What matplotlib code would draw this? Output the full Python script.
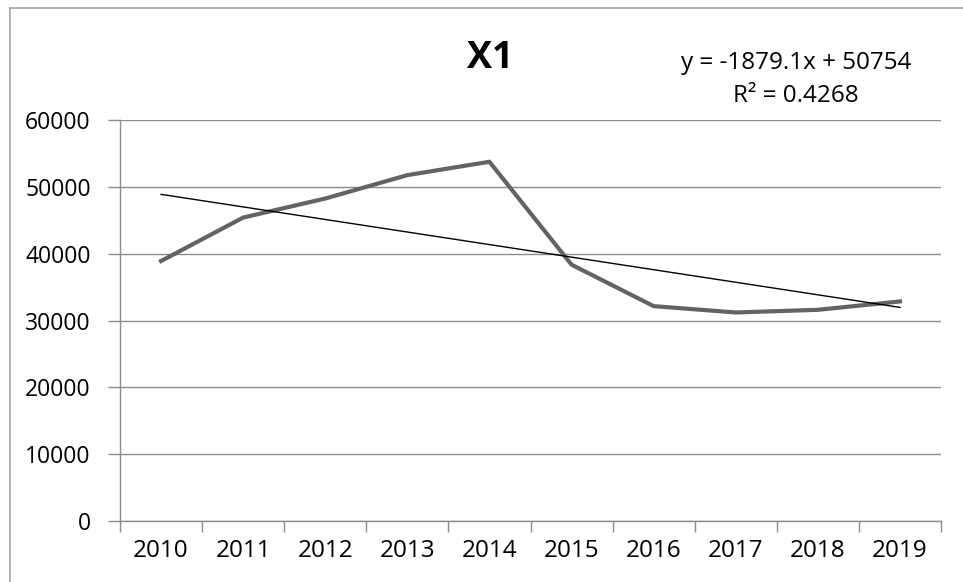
import matplotlib.pyplot as plt
from matplotlib.lines import Line2D
import numpy as np

plt.rcParams['font.family'] = ['Open Sans', 'DejaVu Sans']

# Données
annees = ['2010', '2011', '2012', '2013', '2014', '2015', '2016', '2017', '2018', '2019']
valeurs = [38900, 45400, 48250, 51750, 53750, 38350, 32150, 31200, 31600, 32850]
pente = -1879.1
ordonnee = 50754
r2 = 0.4268

fig = plt.figure(figsize=(9.63, 5.82), dpi=100)
ax = fig.add_axes([120 / 963, 1 - 521 / 582, 821 / 963, 401 / 582])

x = np.arange(len(annees))
ax.plot(x, valeurs, color='#636363', linewidth=3.0, solid_joinstyle='miter', zorder=3)

# Courbe de tendance linéaire (x commence à 1 comme dans Excel)
tendance = pente * (x + 1) + ordonnee
ax.plot(x, tendance, color='black', linewidth=1.0, zorder=4)

ax.set_xlim(-0.5, len(annees) - 0.5)
ax.set_ylim(0, 60000)
ax.set_yticks(np.arange(0, 60001, 10000))
ax.set_xticks(np.arange(-0.5, len(annees), 1.0))
ax.set_xticklabels([])
ax.set_xticks(x, minor=True)
ax.set_xticklabels(annees, minor=True, fontsize=17.5)
ax.tick_params(axis='x', which='minor', length=0, pad=13)
ax.tick_params(axis='x', which='major', length=8, color='#8c8c8c', width=1)
ax.tick_params(axis='y', length=9, color='#8c8c8c', width=1, labelsize=16.5, pad=12)

ax.grid(axis='y', color='#8c8c8c', linewidth=1)
ax.set_axisbelow(True)
for cote in ['top', 'right']:
    ax.spines[cote].set_visible(False)
for cote in ['left', 'bottom']:
    ax.spines[cote].set_color('#8c8c8c')
    ax.spines[cote].set_linewidth(1)

# Titre et équation
fig.text(490 / 963, 1 - 58 / 582, 'X1', fontsize=27, fontweight='bold',
         ha='center', va='center')
fig.text(796 / 963, 1 - 63 / 582, 'y = -1879.1x + 50754', fontsize=17.5,
         ha='center', va='center')
fig.text(796 / 963, 1 - 96 / 582, 'R² = 0.4268', fontsize=17.5,
         ha='center', va='center')

# Bordure du graphique (gauche et haut)
fig.add_artist(Line2D([10 / 963, 10 / 963], [0, 1 - 8 / 582], color='#a6a6a6', linewidth=1.2))
fig.add_artist(Line2D([10 / 963, 1], [1 - 8 / 582, 1 - 8 / 582], color='#a6a6a6', linewidth=1.2))

fig.savefig('out.png', dpi=100)
